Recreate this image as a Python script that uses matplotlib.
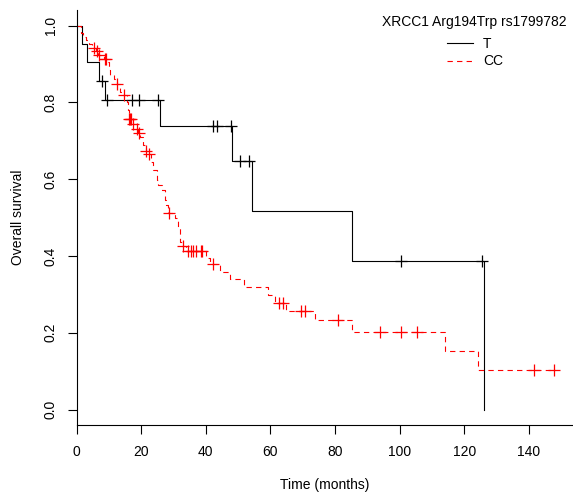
import numpy as np
import matplotlib
matplotlib.use("Agg")
import matplotlib.pyplot as plt

plt.rcParams['font.family'] = ['Liberation Sans', 'DejaVu Sans']
plt.rcParams['font.size'] = 10

# T group (Kaplan-Meier steps)
t_times = [0, 1.7, 3.3, 7.0, 8.9, 25.8, 48.2, 54.2, 85.2, 126.3]
t_surv = [1.0, 0.952, 0.905, 0.857, 0.806, 0.739, 0.647, 0.517, 0.387, 0.0]
t_cens = [7.8, 9.5, 17.3, 19.4, 25.2, 42.4, 43.5, 47.7, 50.5, 53.5, 100.4, 125.4]

# CC group
cc_times = [0, 1.3, 2.1, 2.9, 3.9, 4.8, 5.9, 6.6, 8.5, 9.5, 10.0, 10.3, 11.6,
            12.4, 13.4, 14.4, 15.5, 15.9, 16.2, 17.4, 18.6, 19.0, 19.6, 20.5,
            21.4, 22.1, 23.2, 23.8, 24.8, 25.2, 26.6, 27.3, 27.8, 28.4, 30.4,
            31.4, 31.9, 32.1, 32.6, 33.8, 40.0, 41.2, 44.3, 47.4, 52.0, 59.4,
            61.3, 64.9, 73.9, 85.2, 114.0, 124.3, 148.0]
cc_surv = [1.0, 0.981, 0.971, 0.962, 0.952, 0.943, 0.933, 0.924, 0.914, 0.905,
           0.885, 0.871, 0.862, 0.849, 0.828, 0.820, 0.800, 0.780, 0.757, 0.745,
           0.732, 0.721, 0.710, 0.690, 0.674, 0.665, 0.644, 0.625, 0.598, 0.585,
           0.572, 0.546, 0.533, 0.512, 0.498, 0.476, 0.455, 0.437, 0.426, 0.413,
           0.395, 0.380, 0.359, 0.339, 0.320, 0.298, 0.278, 0.257, 0.233, 0.203,
           0.152, 0.102, 0.102]
cc_cens = [5.3, 6.2, 6.9, 8.8, 9.2, 12.6, 14.8, 16.4, 16.6, 16.9, 17.6, 18.8,
           19.2, 21.5, 22.3, 28.7, 32.9, 34.5, 35.4, 36.0, 37.0, 38.5, 39.0,
           42.4, 62.8, 63.8, 69.5, 70.8, 80.8, 93.9, 100.4, 105.5, 141.7, 147.7]

legend_title = "XRCC1 Arg194Trp rs1799782"
labels = ["T", "CC"]


def surv_at(times, surv, c):
    idx = np.searchsorted(times, c, side='right') - 1
    return np.asarray(surv)[idx]


W, H = 573, 495
fig = plt.figure(figsize=(W / 100, H / 100), dpi=100)
ax = fig.add_axes([76.5 / W, 1 - 424.9 / H, (W - 76.5) / W, (424.9 - 10.3) / H])

l1, = ax.step(t_times, t_surv, where='post', color='black', lw=0.8)
ax.plot(t_cens, surv_at(t_times, t_surv, t_cens), ls='none', marker='+',
        ms=8, mew=0.9, color='black')

l2, = ax.step(cc_times, cc_surv, where='post', color='red', lw=0.8,
              dashes=(4.8, 3.8))
ax.plot(cc_cens, surv_at(cc_times, cc_surv, cc_cens), ls='none', marker='+',
        ms=8, mew=0.9, color='red')

ax.set_xlim(0, 153.7)
ax.set_ylim(-0.04, 1.04)
ax.set_xticks(np.arange(0, 141, 20))
ax.set_yticks(np.arange(0, 1.01, 0.2))
ax.set_yticklabels(["0.0", "0.2", "0.4", "0.6", "0.8", "1.0"], rotation=90,
                   va='center')
ax.tick_params(length=6.5, width=0.8)
ax.tick_params(axis='x', pad=8)
ax.tick_params(axis='y', pad=7)
for s in ['top', 'right']:
    ax.spines[s].set_visible(False)
for s in ['left', 'bottom']:
    ax.spines[s].set_linewidth(0.8)

ax.set_xlabel("Time (months)")
ax.xaxis.set_label_coords(0.5, -(478 - 424.9) / (424.9 - 10.3))
ax.set_ylabel("Overall survival")
ax.yaxis.set_label_coords(-(76.5 - 25) / (W - 76.5), 0.5)

fig.text(567 / W, 1 - 21.7 / H, legend_title, ha='right', va='center')
fig.legend([l1, l2], labels, loc='upper left', frameon=False,
           bbox_to_anchor=(446.7 / W, 1 - 37 / H), bbox_transform=fig.transFigure,
           borderpad=0, borderaxespad=0, handlelength=1.9, handletextpad=0.7,
           labelspacing=0.25)

fig.savefig("out.png", dpi=100)
